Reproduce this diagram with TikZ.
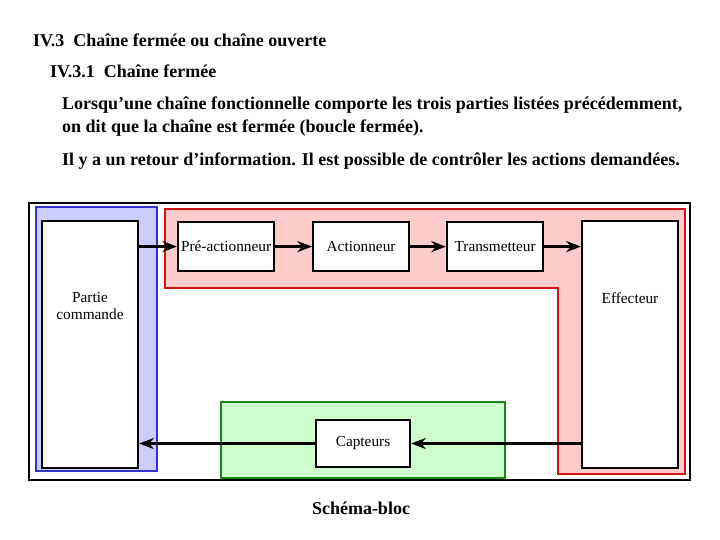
\documentclass[tikz,border=0pt]{standalone}
\usepackage{fontspec}
\setmainfont{Liberation Serif}
\usetikzlibrary{arrows.meta}

\definecolor{bleufond}{RGB}{204,204,255}
\definecolor{bleutrait}{RGB}{51,51,204}
\definecolor{rougefond}{RGB}{255,204,204}
\definecolor{rougetrait}{RGB}{210,20,20}
\definecolor{vertfond}{RGB}{204,255,204}
\definecolor{verttrait}{RGB}{20,140,20}

\begin{document}
\begin{tikzpicture}[x=1pt, y=-1pt, >=Stealth,
  bloc/.style={draw, line width=2.2pt, fill=white, inner sep=0pt, minimum width=96pt, minimum height=49pt, font=\fontsize{15.3}{17}\selectfont},
  haut/.style={bloc, minimum height=247pt, align=center},
  fleche/.style={->, line width=2.6pt},
  titre/.style={anchor=base west, inner sep=0pt, font=\bfseries\fontsize{18}{21}\selectfont}]
  \useasboundingbox (0,0) rectangle (720,540);

  % textes
  \node[titre] (t1) at (33,47) {IV.3\ \ Chaîne fermée ou chaîne ouverte};
  \node[titre] (t2) at (50,78) {IV.3.1\ \ Chaîne fermée};
  \node[titre] (t3) at (62,110) {Lorsqu’une chaîne fonctionnelle comporte les trois parties listées précédemment,};
  \node[titre] (t4) at (62,133) {on dit que la chaîne est fermée (boucle fermée).};
  \node[titre] (t5) at (62,166) {Il y a un retour d’information. Il est possible de contrôler les actions demandées.};

  % cadre et zones
  \draw[line width=2.2pt] (29,203) rectangle (690,480);
  \draw[bleutrait, fill=bleufond, line width=2.8pt] (36,207) rectangle (157,471);
  \draw[rougetrait, fill=rougefond, line width=2.8pt] (165,209) -- (685,209) -- (685,474) -- (558,474) -- (558,288) -- (165,288) -- cycle;
  \draw[verttrait, fill=vertfond, line width=2.8pt] (221,402) rectangle (505,478);

  % blocs
  \node[haut, label={[yshift=38.5pt, align=center, font=\fontsize{15.3}{17}\selectfont]center:Partie\\commande}] (pc) at (90,344.5) {};
  \node[bloc, anchor=north west] (pre) at (177,221) {Pré-actionneur};
  \node[bloc, anchor=north west] (act) at (312,221) {Actionneur};
  \node[bloc, anchor=north west] (tra) at (446,221) {Transmetteur};
  \node[haut, label={[yshift=46.5pt, font=\fontsize{15.3}{17}\selectfont]center:Effecteur}] (eff) at (630,344.5) {};
  \node[bloc, minimum width=94pt, minimum height=47pt] (cap) at (363,443.5) {Capteurs};

  % liaisons
  \draw[fleche] (pc.east |- pre.west) -- (pre.west);
  \draw[fleche] (pre.east) -- (act.west);
  \draw[fleche] (act.east) -- (tra.west);
  \draw[fleche] (tra.east) -- (tra.east -| eff.west);
  \draw[fleche] (eff.west |- cap.east) -- (cap.east);
  \draw[fleche] (cap.west) -- (cap.west -| pc.east);

  \node[anchor=base, inner sep=0pt, font=\bfseries\fontsize{18}{21}\selectfont] (leg) at (361,514) {Schéma-bloc};
\end{tikzpicture}
\end{document}
